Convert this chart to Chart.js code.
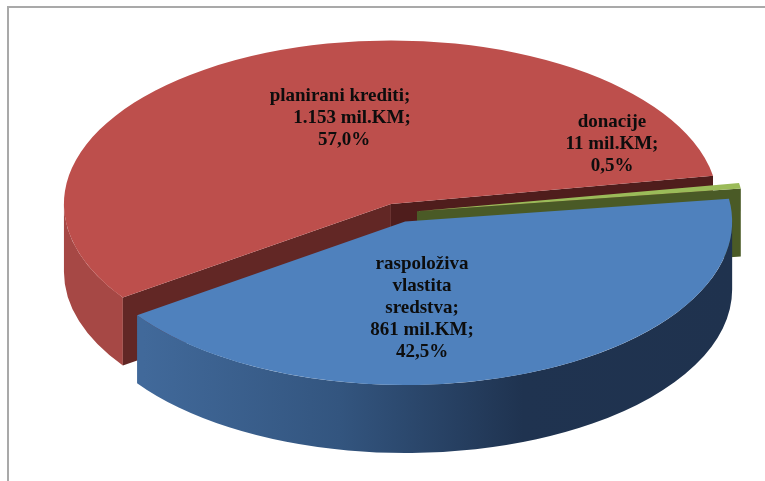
<!DOCTYPE html>
<html>
<head>
<meta charset="utf-8">
<title>Izvori finansiranja</title>
<script src="https://cdn.jsdelivr.net/npm/chart.js@4"></script>
<style>
    html, body { margin: 0; background: #fff; overflow: hidden; }
    #frame { position: absolute; left: 7px; top: 6px; width: 765px; height: 481px; border-left: 2px solid #a9a9a9; border-top: 2px solid #a9a9a9; }
    #pie { position: absolute; left: 0; top: 0; }
</style>
</head>
<body>
<div id="frame"></div>
<canvas id="pie" width="765" height="481"></canvas>
<script>
// Slices, in drawing order round the pie
const categories = ['raspoloživa vlastita sredstva', 'planirani krediti', 'donacije'];
const amounts = [861, 1153, 11];
const sliceLabels = [
    ['raspoloživa', 'vlastita', 'sredstva;', '861 mil.KM;', '42,5%'],
    ['planirani krediti;', '1.153 mil.KM;', '57,0%'],
    ['donacije', '11 mil.KM;', '0,5%']
];

const topColors = ['#4f81bd', '#bd4f4c', '#9bbb59'];

// Fake 3D: the flat pie gets squashed into an ellipse and extruded
const center = { x: 398.2, y: 212.7 };
const radiusX = 327;
const radiusY = 163.5;
const depth = 68;
const explode = 19;
const paintOrder = [1, 2, 0]; // back to front

const labelAnchors = [
    { y: 264, x: [422, 422, 422, 422, 422] },
    { y: 96, x: [340, 352, 344] },
    { y: 122, x: [612, 612, 612] }
];

function sliceCenter(arc) {
    const mid = (arc.startAngle + arc.endAngle) / 2;
    return {
        x: center.x + Math.cos(mid) * explode,
        y: center.y + Math.sin(mid) * explode * radiusY / radiusX
    };
}

function drawCutFace(ctx, c, angle, color) {
    const ex = c.x + Math.cos(angle) * radiusX;
    const ey = c.y + Math.sin(angle) * radiusY;
    ctx.fillStyle = color;
    ctx.beginPath();
    ctx.moveTo(c.x, c.y);
    ctx.lineTo(ex, ey);
    ctx.lineTo(ex, ey + depth);
    ctx.lineTo(c.x, c.y + depth);
    ctx.closePath();
    ctx.fill();
}

function drawOuterWall(ctx, c, from, to, fill) {
    ctx.fillStyle = fill;
    ctx.beginPath();
    ctx.ellipse(c.x, c.y, radiusX, radiusY, 0, from, to);
    ctx.ellipse(c.x, c.y + depth, radiusX, radiusY, 0, to, from, true);
    ctx.closePath();
    ctx.fill();
}

function drawSides(ctx, index, arc, c) {
    if (index === 0) {
        // blue: only the rim shows, dark towards the right
        const grad = ctx.createLinearGradient(c.x - radiusX, 0, c.x + radiusX, 0);
        grad.addColorStop(0.1, '#41699a');
        grad.addColorStop(0.4, '#33557f');
        grad.addColorStop(0.68, '#1f3350');
        grad.addColorStop(1, '#1f324e');
        drawOuterWall(ctx, c, 0, arc.endAngle, grad);
    } else if (index === 1) {
        // red: rim on the left and both cut faces
        drawOuterWall(ctx, c, arc.startAngle, Math.PI, '#a64845');
        drawCutFace(ctx, c, arc.endAngle, '#4f1d1c');
        drawCutFace(ctx, c, arc.startAngle, '#622725');
    } else {
        drawCutFace(ctx, c, arc.endAngle, '#4a5a26');
    }
}

const pie3d = {
    id: 'pie3d',
    beforeDatasetDraw(chart) {
        const ctx = chart.ctx;
        const arcs = chart.getDatasetMeta(0).data;

        paintOrder.forEach(function (i) {
            const arc = arcs[i];
            const c = sliceCenter(arc);
            drawSides(ctx, i, arc, c);

            ctx.save();
            ctx.translate(c.x, c.y);
            ctx.scale(radiusX / arc.outerRadius, radiusY / arc.outerRadius);
            ctx.translate(-arc.x, -arc.y);
            arc.draw(ctx);
            ctx.restore();
        });

        ctx.save();
        ctx.fillStyle = '#0d0d0d';
        ctx.font = 'bold 19px "Liberation Serif"';
        ctx.textAlign = 'center';
        ctx.textBaseline = 'middle';
        sliceLabels.forEach(function (lines, i) {
            lines.forEach(function (line, n) {
                ctx.fillText(line, labelAnchors[i].x[n], labelAnchors[i].y + n * 22);
            });
        });
        ctx.restore();

        return false; // slices are already painted
    }
};

new Chart(document.getElementById('pie'), {
    type: 'pie',
    data: {
        labels: categories,
        datasets: [{
            data: amounts,
            backgroundColor: topColors,
            borderWidth: 0
        }]
    },
    options: {
        responsive: false,
        animation: false,
        rotation: 82,
        plugins: {
            legend: { display: false },
            tooltip: { enabled: false }
        }
    },
    plugins: [pie3d]
});
</script>
</body>
</html>
